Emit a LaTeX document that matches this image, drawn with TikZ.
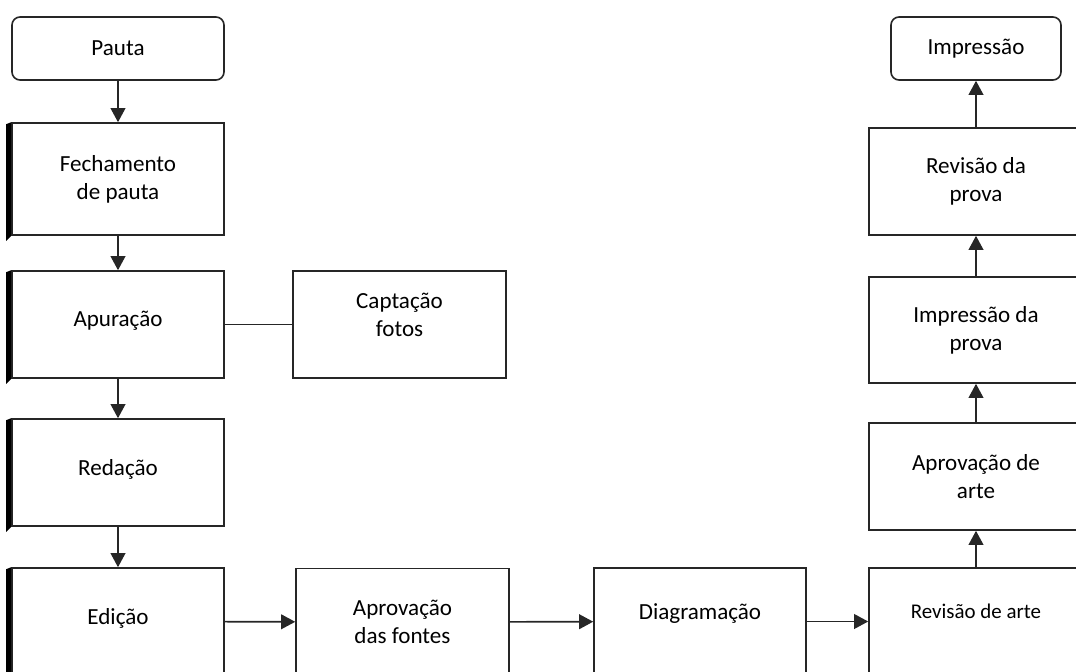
\documentclass[tikz,border=0pt]{standalone}
\usepackage{fontspec}
\setmainfont{Carlito}
\usetikzlibrary{arrows.meta}
\newcommand\etapafont{\fontsize{17.3}{21}\selectfont}
\tikzset{
  etapa/.style={draw=black!85, line width=1.2pt, fill=white, align=center,
    minimum width=159pt, minimum height=80.25pt, inner sep=2pt, font=\etapafont},
  extremo/.style={etapa, rounded corners=6pt, minimum height=47.25pt},
  subir/.style={text depth=#1},
  seta/.style={draw=black!85, line width=1.2pt, -{Triangle[width=11pt,length=10.5pt]}},
  liga/.style={draw=black!85, line width=1.2pt}
}
\begin{document}
\begin{tikzpicture}[x=0.75pt, y=-0.75pt]
    \useasboundingbox (0,0) rectangle (1076,672);
    \clip (0,0) rectangle (1076,672);

    % coluna da esquerda
    \node[extremo] (pauta) at (118,48.5) {Pauta};
    \node[etapa, minimum height=84pt] (fech) at (118,179) {Fechamento\\de pauta};
    \node[etapa, subir=8.5pt] (apur) at (118,324.5) {Apuração};
    \node[etapa, minimum width=159.75pt, subir=15pt] (capt) at (399.5,324.5) {Captação\\fotos};
    \node[etapa, subir=7pt] (red) at (118,472.5) {Redação};
    \node[etapa, subir=7pt] (edic) at (118,621.5) {Edição};

    % barra escura à esquerda
    \foreach \n in {fech,apur,red,edic}
        \fill (\n.north west) -- ([shift={(-5,2)}]\n.north west)
              -- ([shift={(-5,5)}]\n.south west) -- (\n.south west) -- cycle;

    % linha de baixo
    \node[etapa, minimum width=159.75pt] (aprf) at (402.5,622) {Aprovação\\das fontes};
    \node[etapa, subir=14.5pt] (diag) at (700,621.5) {Diagramação};
    \node[etapa, minimum width=160.5pt, subir=15pt,
          font=\fontsize{15.7}{19}\selectfont] (revarte) at (976,621.5) {Revisão de arte};

    % coluna da direita
    \node[etapa, minimum width=160.5pt] (aprarte) at (976,476.5) {Aprovação de\\arte};
    \node[etapa, minimum width=160.5pt, minimum height=79.5pt] (impprova) at (976,330) {Impressão da\\prova};
    \node[etapa, minimum width=160.5pt] (revprova) at (976,181.5) {Revisão da\\prova};
    \node[extremo, minimum width=127.5pt] (impr) at (976,48.5) {Impressão};

    % setas
    \draw[seta] (pauta) -- (fech);
    \draw[seta] (fech) -- (apur);
    \draw[liga] (apur) -- (capt);
    \draw[seta] (apur) -- (red);
    \draw[seta] (red) -- (edic);
    \draw[seta] (edic) -- (aprf);
    \draw[seta] (aprf) -- (diag);
    \draw[seta] (diag) -- (revarte);
    \draw[seta] (revarte) -- (aprarte);
    \draw[seta] (aprarte) -- (impprova);
    \draw[seta] (impprova) -- (revprova);
    \draw[seta] (revprova) -- (impr);
\end{tikzpicture}
\end{document}
